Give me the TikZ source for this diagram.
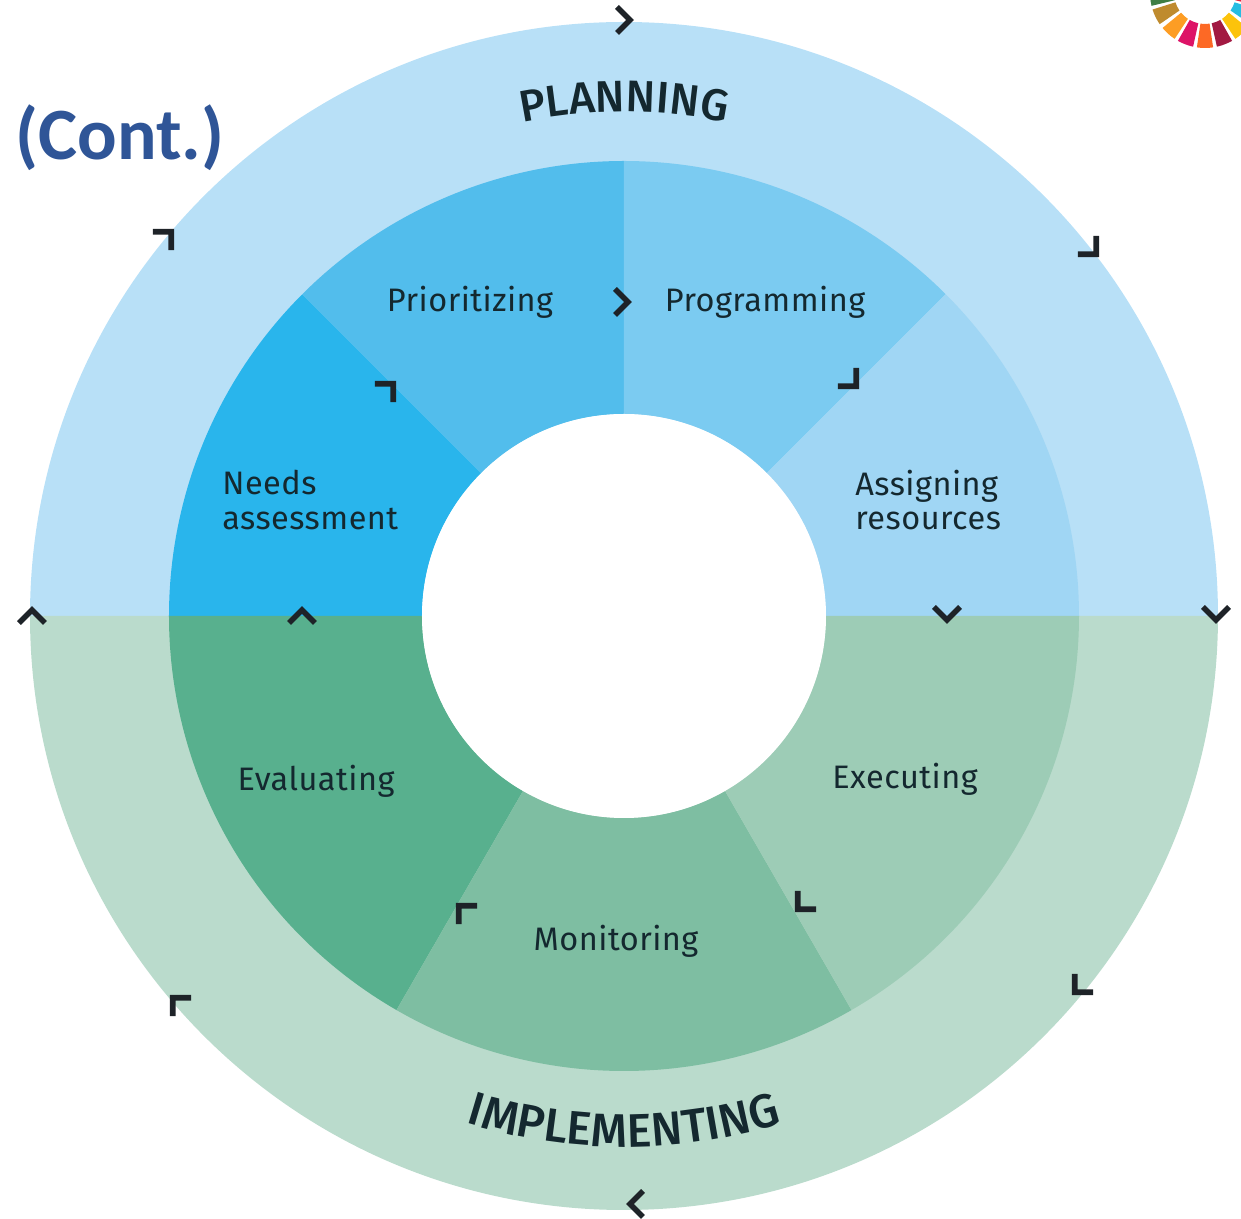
\documentclass[tikz,border=0pt]{standalone}
\usepackage{fontspec}
\newfontfamily\stepfont[LetterSpace=1.5]{Fira Sans}
\newfontfamily\phasefont[UprightFont=* Medium]{Fira Sans}
\newfontfamily\contfont{Carlito}
\usetikzlibrary{decorations.text}
\definecolor{planOuter}{HTML}{B8E0F7}
\definecolor{needsCol}{HTML}{29B5EC}
\definecolor{prioCol}{HTML}{52BDEC}
\definecolor{progCol}{HTML}{7BCBF1}
\definecolor{assignCol}{HTML}{A0D6F4}
\definecolor{implOuter}{HTML}{BADBCC}
\definecolor{evalCol}{HTML}{58B08E}
\definecolor{monCol}{HTML}{7EBEA2}
\definecolor{execCol}{HTML}{9DCCB6}
\definecolor{markCol}{HTML}{1E2328}
\definecolor{labelCol}{HTML}{14282F}
\definecolor{contCol}{HTML}{2F5597}
\definecolor{wheelA}{HTML}{3F7E44}
\definecolor{wheelB}{HTML}{BF8B2E}
\definecolor{wheelC}{HTML}{FD9D24}
\definecolor{wheelD}{HTML}{DD1367}
\definecolor{wheelE}{HTML}{FD6925}
\definecolor{wheelF}{HTML}{A21942}
\definecolor{wheelG}{HTML}{FCC30B}
\definecolor{wheelH}{HTML}{26BDE2}
\definecolor{wheelI}{HTML}{E5243B}
\tikzset{
  steplabel/.style={font=\stepfont\fontsize{18.5}{19.5}\selectfont,text=labelCol,inner sep=0pt},
  chevron/.pic={\draw[markCol,line width=3.2pt,miter limit=10] (-7,13) -- (6,0) -- (-7,-13);}
}
\begin{document}
\begin{tikzpicture}[x=0.02cm,y=0.02cm]
\def\rOuter{594}
\def\rMid{455}
\def\rHole{202}
\useasboundingbox (-624,-603) rectangle (617,616);

% Outer ring
\fill[planOuter] (180:\rOuter) arc (180:0:\rOuter) -- cycle;
\fill[implOuter] (180:\rOuter) arc (180:360:\rOuter) -- cycle;

% Inner ring
\foreach \a/\b/\col in {180/135/needsCol,135/90/prioCol,90/45/progCol,45/0/assignCol,
  180/240/evalCol,240/300/monCol,300/360/execCol}
  \fill[\col] (\a:\rMid) arc (\a:\b:\rMid) -- (\b:\rHole) arc (\b:\a:\rHole) -- cycle;
\fill[white] (0,0) circle (\rHole);

% Wheel in the corner
\begin{scope}
\clip (500,520) rectangle (617,616);
\begin{scope}[shift={(581,623)}]
\foreach \a/\col in {185/wheelA,206/wheelB,228/wheelC,249/wheelD,270/wheelE,
  291/wheelF,312/wheelG,334/wheelH,355/wheelI}
  \fill[\col] (\a-8.5:55) arc (\a-8.5:\a+8.5:55) -- (\a+8.5:31) arc (\a+8.5:\a-8.5:31) -- cycle;
\end{scope}
\end{scope}

% Labels
\node[font=\contfont\bfseries\fontsize{42}{42}\selectfont,text=contCol,inner sep=0pt] (cont) at (-504,478) {(Cont.)};
\node[steplabel] (prio) at (-154,314) {Prioritizing};
\node[steplabel] (prog) at (141,314) {Programming};
\node[steplabel,anchor=west,align=left] (needs) at (-402,116) {Needs\\assessment};
\node[steplabel,anchor=west,align=left] (assign) at (231,116) {Assigning\\resources};
\node[steplabel] (exec) at (281,-163) {Executing};
\node[steplabel] (mon) at (-8,-325) {Monitoring};
\node[steplabel] (eval) at (-308,-165) {Evaluating};

\path[decorate,decoration={text along path,text align=center,
  text={|\phasefont\fontsize{25.2}{25.2}\selectfont\color{labelCol}|PLANNING}}]
  (150:504) arc (150:30:504);
\path[decorate,decoration={text along path,text align=center,
  text={|\phasefont\fontsize{26.8}{26.8}\selectfont\color{labelCol}|IMPLEMENTING}}]
  (240:531) arc (240:300:531);

% Outer marks
\foreach \x/\y/\r in {0/596/0,468/366/-45,592/2/-90,455/-372/-135,12/-588/180,
  -447/-386/135,-592/0/90,-457/380/45}
  \pic[rotate=\r] at (\x,\y) {chevron};

% Inner marks
\foreach \x/\y/\r in {-2/314/0,228/234/-45,323/2/-90,178/-289/-135,
  -161/-294/135,-322/0/90,-235/228/45}
  \pic[rotate=\r] at (\x,\y) {chevron};
\end{tikzpicture}
\end{document}
